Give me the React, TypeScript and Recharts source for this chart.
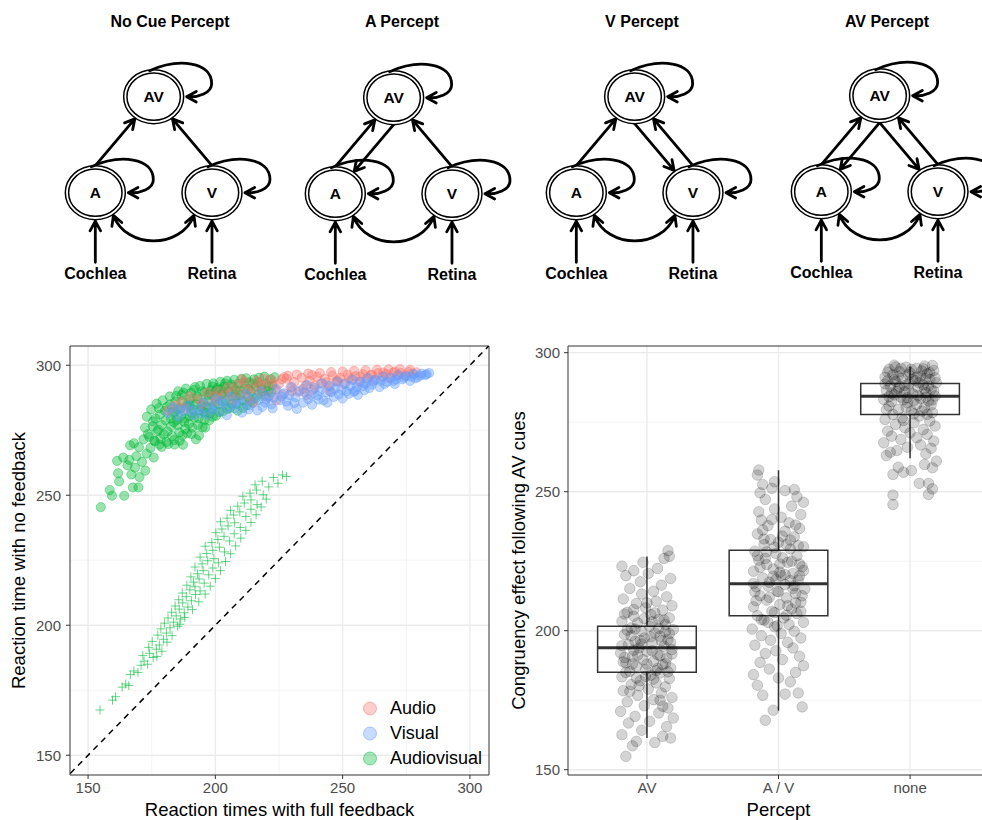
import React from 'react';
import {
  ScatterChart, Scatter, XAxis, YAxis, CartesianGrid, ReferenceLine, ReferenceArea, Legend, Label,
} from 'recharts';

const FONT = '"Liberation Sans", Arial, Helvetica, sans-serif';

// ---------------- top diagrams (data) ----------------
const diagramTitles = ['No Cue Percept', 'A Percept', 'V Percept', 'AV Percept'];
const nodeIds = ['AV', 'A', 'V'];
const nodeX = [1, 0, 2];
const nodeY = [1, 0, 0];
const inputIds = ['Cochlea', 'Retina'];
const inputX = [0, 2];
const inputY = [-0.84, -0.84];
const inputTargets = ['A', 'V'];
const diagramEdges: string[][][] = [
  [['A', 'AV'], ['V', 'AV']],
  [['A', 'AV'], ['AV', 'A'], ['V', 'AV']],
  [['A', 'AV'], ['V', 'AV'], ['AV', 'V']],
  [['A', 'AV'], ['AV', 'A'], ['V', 'AV'], ['AV', 'V']],
];
// layout of the four diagrams
const diagramLeft = [2, 242, 483, 728];
const diagramTop = [0, 1, 0, -1];
const titleCenterX = [170, 402, 642, 887];

// ---------------- left scatter (data) ----------------
const rtTicks = [150, 200, 250, 300];
const rtMinor = [175, 225, 275];
const legendOrder = ['Audio', 'Visual', 'Audiovisual'];
const audioPts = [
  [181.5,282.5],[184.0,284.5],[186.5,286.0],[190.0,288.0],[193.5,287.0],[196.8,289.5],[199.5,286.0],[201.0,290.0],[203.5,288.5],[205.0,291.5],[207.0,286.5],[208.5,292.5],[210.0,289.0],[211.5,293.5],[213.0,287.0],[214.5,291.0],[216.0,294.0],[217.5,289.5],[219.0,292.0],[220.5,287.8],[222.0,294.5],[223.5,290.5],[225.0,292.8],[226.5,288.8],[228.0,294.8],[229.5,291.5],[231.0,293.5],[232.5,289.8],[234.0,295.2],[235.5,292.2],[237.0,294.0],[238.5,290.6],[240.0,295.6],[241.5,293.0],[243.0,294.8],[244.5,291.8],[246.0,296.0],[247.5,293.8],[249.0,295.2],[250.5,292.8],[252.0,296.4],[253.5,294.4],[255.0,295.8],[256.5,293.6],[258.0,296.6],[259.5,295.0],[261.0,296.2],[262.5,294.4],[264.0,297.0],[265.5,295.6],[267.0,296.6],[268.5,295.2],[270.0,297.2],[271.5,296.2],[273.0,297.0],[274.5,296.0],[276.0,297.4],[277.5,296.8],[279.0,297.3],
  [215.0,285.6],[224.0,286.5],[236.0,288.6],[245.0,290.0],[227.0,295.4],[238.0,296.2],[219.0,294.9],[210.5,294.6],
  [228.5,296.0],[232.0,296.4],[236.5,296.8],[241.0,297.0],[245.5,297.4],[250.0,297.6],[254.5,297.9],[259.0,298.1],[263.5,298.3],[268.0,298.4],[272.5,298.5],[276.5,298.2],[230.0,290.0],[234.5,291.0],[239.0,292.2],[243.5,293.4],[248.0,294.2],[252.5,295.0],[257.0,295.6],[261.5,296.4],[266.0,297.2],[270.5,297.6],[212.5,290.5],[217.5,292.8],[222.5,293.0],[226.0,294.6],[200.0,288.0],[206.5,289.5],[195.0,285.0],[188.0,283.5],
];
const visualPts = [
  [181.5,281.5],[183.5,283.8],[185.5,280.2],[187.5,282.5],[189.5,284.6],[191.5,280.8],[193.5,283.2],[195.5,285.8],[197.0,281.0],[198.5,284.0],[200.0,287.0],[201.5,282.2],[203.0,285.2],[204.5,280.8],[206.0,288.0],[207.5,283.4],[209.0,286.4],[210.5,281.8],[212.0,289.0],[213.5,284.6],[215.0,287.4],[216.5,282.6],[218.0,290.0],[219.5,285.6],[221.0,288.2],[222.5,283.4],[224.0,290.8],[225.5,286.6],[227.0,289.2],[228.5,284.4],[230.0,291.6],[231.5,287.6],[233.0,290.2],[234.5,285.6],[236.0,292.4],[237.5,288.6],[239.0,291.2],[240.5,286.8],[242.0,293.0],[243.5,289.6],[245.0,292.0],[246.5,287.8],[248.0,293.6],[249.5,290.6],[251.0,292.8],[252.5,289.0],[254.0,294.4],[255.5,291.6],[257.0,293.6],[258.5,290.4],[260.0,295.0],[261.5,292.6],[263.0,294.4],[264.5,291.6],[266.0,295.6],[267.5,293.6],[269.0,295.2],[270.5,292.8],[272.0,296.2],[273.5,294.6],[275.0,295.8],[276.5,294.0],[278.0,296.6],[279.5,295.4],[281.0,296.8],[282.5,296.2],[284.0,297.0],
  [205.0,284.0],[211.0,285.5],[217.0,286.5],[223.0,287.5],[229.0,288.5],[235.0,289.5],[241.0,290.0],[247.0,291.0],[253.0,292.0],[259.0,293.0],[265.0,294.0],[271.0,294.5],[277.0,295.6],[232.0,283.2],[244.0,285.6],[256.0,288.6],[238.0,284.8],[250.0,287.2],
  [186.0,283.0],[190.5,282.5],[194.5,281.5],[199.0,283.0],[202.5,286.2],[208.0,285.0],[213.0,283.0],[218.5,284.0],[220.0,287.0],[226.0,288.0],[231.0,285.5],[236.5,287.0],[240.0,288.4],[245.5,289.6],[251.5,290.0],[255.0,290.2],[258.0,292.0],[262.0,293.8],[266.5,292.8],[270.0,294.0],[274.0,295.2],[278.5,295.0],[280.5,296.0],[283.0,296.6],[242.5,286.5],[248.5,288.8],[254.5,289.8],[260.5,291.2],[228.0,286.0],[222.0,285.0],
];
const audiovisualPts = [
  [155.0,245.4],[158.5,252.0],[159.4,249.8],[164.2,249.8],[161.8,258.5],[162.2,255.3],[167.6,253.0],[169.8,253.0],[161.4,263.2],[163.8,264.5],[166.2,263.6],[168.4,260.6],[170.2,257.0],[167.0,258.0],[165.5,261.5],[169.0,265.0],[171.2,262.8],[172.5,259.5],[173.0,266.0],[170.0,268.5],[168.0,270.0],[166.5,269.2],[171.8,271.5],[174.5,268.2],[175.8,264.5],[173.5,273.5],[176.0,271.0],[178.0,269.5],[177.2,274.6],[175.4,276.5],
  [172.4,276.0],[173.1,280.2],[174.0,272.5],[174.8,283.0],[175.5,278.4],[176.2,270.8],[176.9,285.2],[177.6,275.2],[178.2,281.0],[178.9,268.6],
  [179.3,286.5],[179.8,273.4],[180.4,278.8],[181.0,284.0],[181.5,269.7],[182.1,288.0],[182.6,276.5],[183.2,281.7],[183.8,271.2],[184.3,286.0],[184.9,279.0],[185.4,290.0],[185.8,274.2],
  [186.3,283.4],[186.8,288.6],[187.3,269.4],[187.8,278.2],[188.4,291.0],[188.9,273.8],[189.4,285.8],[189.9,280.4],[190.5,289.4],[191.0,276.0],[191.5,283.0],[192.0,291.6],[192.4,271.5],
  [193.0,287.0],[193.5,279.6],[194.0,292.0],[194.5,284.2],[195.0,276.2],[195.6,289.6],[196.1,281.8],[196.6,292.8],[197.1,286.4],[197.6,278.8],[198.2,290.4],[198.7,283.6],[199.2,293.0],[199.8,287.6],[200.3,280.6],
  [200.8,291.2],[201.3,285.0],[201.9,293.6],[202.4,288.8],[202.9,282.2],[203.5,291.8],[204.0,286.6],[204.6,294.0],[205.1,289.6],[205.7,283.6],[206.3,292.6],[206.8,287.8],[207.4,294.4],[207.9,290.6],
  [208.5,285.2],[209.1,292.9],[209.7,288.6],[210.3,294.8],[210.9,283.6],[211.5,291.0],[212.1,295.0],[212.7,287.8],[213.3,293.4],[214.0,290.0],[214.6,285.6],[215.2,294.6],[215.9,291.8],
  [216.5,288.6],[217.2,295.2],[217.9,292.4],[218.6,289.8],[219.3,295.6],[220.0,293.0],[220.8,290.2],[221.6,294.6],[222.4,292.2],[223.3,295.4],
  [184.0,282.0],[187.0,286.0],[190.0,284.5],[192.8,288.0],[195.3,285.5],[198.0,289.0],[200.5,290.5],[203.2,289.5],[188.0,279.5],[191.8,279.8],[185.2,277.0],[182.5,279.5],[196.0,276.0],[193.6,273.0],
  [176.5,279.5],[177.8,283.5],[179.0,277.0],[180.2,282.5],[181.2,274.5],[182.3,285.0],[183.0,272.8],[183.7,278.0],[184.6,288.2],[185.0,283.0],[186.0,271.0],[186.6,280.5],[187.5,289.5],[188.2,275.5],[188.7,284.0],[189.6,277.5],[190.2,287.0],[190.8,281.5],[191.6,290.5],[192.3,285.0],[193.2,277.0],[193.9,282.5],[194.8,290.0],[195.8,279.0],[196.5,284.0],[197.3,288.6],[198.0,281.5],[198.9,291.8],[199.6,284.5],[200.6,288.0],[201.6,282.0],[202.2,290.8],[203.0,286.0],[203.8,293.0],[204.8,283.2],[205.4,290.0],[206.5,285.2],[207.2,291.8],[208.0,288.0],[208.8,282.5],[209.4,290.2],[210.6,286.4],[211.2,293.2],[212.4,284.6],[213.0,290.8],[213.8,286.2],[214.8,292.8],[216.0,287.4],[216.8,293.4],[218.2,291.0],[219.6,288.2],[221.0,292.0],[222.0,289.6],[178.5,271.8],[180.8,270.5],[184.0,269.5],[187.0,273.0],[190.6,273.6],[195.5,282.0],[199.0,280.2],
];
const crossPts = [
  [154.7,167.4],[159.6,171.2],[160.8,172.5],[163.4,176.2],[164.8,177.4],[166.0,176.8],[166.6,181.0],[168.0,182.4],[169.6,181.8],[170.8,184.6],[172.0,186.2],[173.4,185.0],[171.5,188.4],[174.2,189.2],[175.6,187.6],[176.8,190.8],[173.8,191.5],[178.0,192.4],[175.2,193.8],[179.6,194.6],[177.4,196.2],[180.8,197.0],[178.6,198.6],[182.2,199.0],[180.0,200.8],[183.6,201.2],[185.2,199.6],[181.4,202.8],[184.6,203.6],[186.4,202.4],[182.8,205.0],[185.8,206.2],[187.8,204.8],[184.2,207.4],[187.2,208.6],[189.2,207.0],[185.6,209.8],[188.6,211.0],[190.6,209.4],[192.2,211.8],[187.0,212.4],[190.0,213.6],[192.0,214.8],[194.0,213.2],[188.8,215.4],[191.4,216.6],[193.6,217.8],[195.6,216.2],[190.4,218.6],[193.0,219.8],[195.2,221.0],[197.4,219.4],[199.0,222.0],[192.0,222.4],[194.8,223.6],[197.0,224.8],[199.4,225.6],[201.2,224.0],[194.0,226.2],[196.6,227.6],[199.0,228.8],[201.6,230.0],[203.6,228.2],[196.0,230.4],[198.6,231.8],[201.0,233.0],[203.4,234.2],[205.6,232.4],[207.4,235.2],[200.2,235.6],[202.6,237.0],[205.0,238.2],[207.6,239.4],[209.8,237.6],[202.0,239.8],[204.6,241.2],[207.2,242.4],[209.6,243.6],[212.0,241.8],[214.0,244.6],[206.0,244.2],[208.8,245.8],[211.4,247.0],[214.0,248.2],[216.4,246.4],[210.8,249.6],[213.6,250.8],[216.2,252.0],[218.8,250.2],[221.0,253.2],[215.6,254.0],[218.4,255.4],[222.8,256.8],[224.6,254.6],[226.4,257.8],[228.0,257.2],
  [186.0,200.4],[188.0,203.0],[191.0,206.0],[193.5,209.0],[196.0,212.0],[198.0,215.0],[200.0,218.0],[202.0,221.0],[204.0,224.5],[206.0,227.5],[208.0,230.5],[210.0,233.5],[212.0,236.5],[214.0,239.5],[216.0,242.5],[218.0,245.5],[220.0,248.5],[177.0,188.0],[179.0,190.0],[181.0,193.5],[183.0,196.0],
];

// ---------------- right boxplot (data) ----------------
const percepts = ['AV', 'A / V', 'none'];
const boxQ1 = [185.1, 205.4, 277.8];
const boxMedian = [193.9, 216.9, 284.3];
const boxQ3 = [201.6, 228.9, 288.9];
const boxLow = [161.4, 171.3, 262.0];
const boxHigh = [226.7, 257.7, 295.0];
const congTicks = [150, 200, 250, 300];
const congMinor = [175, 225, 275];
const jitterAV = [
  [-0.16,154.8],[-0.11,158.6],[-0.08,160.2],[0.06,159.8],[0.18,161.4],[-0.19,162.6],[0.12,162.0],[-0.04,164.2],[0.15,165.5],[-0.14,166.8],[0.02,167.4],[0.20,168.6],[-0.09,169.2],[0.09,170.4],[-0.20,171.0],[0.16,172.2],[-0.02,173.0],[-0.15,174.4],[0.05,175.2],[0.19,176.0],[-0.07,176.8],[0.11,177.6],[-0.18,178.4],[0.01,179.0],[0.14,179.8],[-0.12,180.6],[0.07,181.2],[-0.05,182.0],[0.17,182.8],[-0.19,183.4],[0.03,184.0],[0.10,184.8],[-0.13,185.4],[-0.01,186.0],[0.18,186.6],[-0.08,187.2],[0.12,187.8],[-0.16,188.4],[0.05,189.0],[-0.03,189.6],[0.15,190.2],[-0.11,190.8],[0.08,191.4],[-0.20,192.0],[0.00,192.6],[0.19,193.2],[-0.06,193.8],[0.13,194.4],[-0.14,195.0],[0.04,195.6],[-0.09,196.2],[0.16,196.8],[-0.02,197.4],[0.10,198.0],[-0.17,198.6],[0.06,199.2],[-0.04,199.8],[0.20,200.4],[-0.12,201.0],[0.02,201.6],[0.14,202.2],[-0.07,202.8],[-0.19,203.4],[0.09,204.0],[0.17,204.6],[-0.10,205.2],[0.03,205.8],[-0.15,206.6],[0.12,207.4],[-0.01,208.2],[0.19,209.0],[-0.08,209.8],[0.07,210.6],[-0.18,211.4],[0.15,212.2],[-0.04,213.2],[0.05,214.2],[-0.13,215.2],[0.11,216.4],[-0.05,217.6],[0.18,218.8],[-0.16,219.8],[0.01,220.6],[-0.10,221.6],[0.08,222.4],[-0.19,223.2],[-0.03,224.6],[0.13,226.0],[0.16,228.8],[0.17,226.8],
  [-0.10,193.0],[0.10,191.0],[0.00,188.0],[-0.05,196.5],[0.07,185.6],[-0.12,198.2],[0.14,199.6],[-0.17,190.4],[0.04,203.2],[-0.08,183.0],
  [-0.18,188.8],[0.16,185.2],[-0.06,180.2],[0.11,196.4],[-0.15,200.2],[0.03,197.8],[0.19,191.6],[-0.02,204.4],[0.08,186.4],[-0.10,207.6],[0.13,203.8],[-0.19,194.6],[0.05,182.6],[-0.07,191.2],[0.17,199.0],[-0.13,178.2],[0.00,210.0],[0.10,175.0],[-0.04,195.2],[0.14,188.2],[-0.16,185.0],[0.06,206.4],[-0.09,200.6],[0.18,195.8],[-0.01,183.6],[0.12,172.8],[-0.17,206.0],[0.04,192.8],[-0.11,188.0],[0.09,200.8],
];
const jitterAVsplit = [
  [-0.10,167.8],[0.18,172.6],[-0.04,171.4],[0.15,177.6],[-0.12,176.8],[0.05,177.2],[-0.16,180.4],[0.09,181.6],[0.00,183.0],[-0.19,184.2],[0.13,185.0],[-0.07,186.2],[0.19,187.4],[-0.14,188.6],[0.03,189.6],[0.16,190.8],[-0.10,191.8],[-0.02,192.8],[0.11,193.8],[-0.18,194.8],[0.07,195.8],[-0.06,196.6],[0.17,197.4],[-0.13,198.2],[0.02,199.0],[0.12,199.8],[-0.20,200.6],[-0.03,201.4],[0.08,202.2],[0.19,203.0],[-0.11,203.8],[0.04,204.6],[-0.16,205.4],[0.14,206.2],[-0.05,207.0],[0.10,207.8],[-0.19,208.6],[0.01,209.4],[0.17,210.2],[-0.09,211.0],[0.06,211.8],[-0.14,212.6],[0.13,213.4],[-0.01,214.2],[0.20,215.0],[-0.17,215.8],[0.05,216.6],[-0.07,217.4],[0.15,218.2],[-0.12,219.0],[0.02,219.8],[0.11,220.6],[-0.19,221.4],[-0.04,222.2],[0.18,223.0],[-0.09,223.8],[0.07,224.6],[-0.15,225.4],[0.03,226.2],[0.14,227.0],[-0.02,227.8],[-0.18,228.6],[0.09,229.4],[0.19,230.2],[-0.11,231.0],[0.00,231.8],[-0.06,232.8],[0.12,233.8],[-0.16,234.8],[0.05,235.8],[0.16,236.8],[-0.08,237.8],[0.08,238.8],[-0.13,239.8],[0.02,240.8],[0.17,241.8],[-0.15,242.8],[-0.03,243.8],[0.10,244.8],[0.19,246.2],[-0.10,247.2],[0.14,248.2],[-0.14,249.6],[0.05,250.4],[-0.05,251.2],[0.12,250.8],[-0.12,252.6],[-0.03,253.6],[-0.16,256.0],[-0.15,257.8],
  [0.00,214.0],[-0.08,216.0],[0.09,218.0],[0.01,221.0],[-0.10,226.0],[0.13,210.0],[-0.13,204.0],[0.06,231.0],[-0.03,206.5],[0.16,224.0],
  [-0.17,210.8],[0.12,216.2],[-0.04,219.6],[0.18,212.6],[-0.09,228.4],[0.06,205.6],[-0.14,222.8],[0.15,230.6],[-0.01,201.8],[0.10,225.0],[-0.19,217.0],[0.03,234.0],[-0.07,212.0],[0.16,219.8],[-0.12,236.2],[0.07,209.0],[-0.03,230.0],[0.19,221.6],[-0.16,227.0],[0.01,224.0],[0.13,238.0],[-0.08,203.0],[0.09,232.6],[-0.18,214.0],[0.05,220.2],[-0.05,240.0],[0.17,207.0],[-0.11,233.0],[0.11,215.2],[-0.02,218.4],
];
const jitterNone = [
  [-0.13,245.4],[-0.13,248.8],[0.14,249.0],[0.17,251.0],[0.07,253.0],[0.14,253.0],[-0.13,256.2],[-0.05,257.0],[-0.09,258.8],[0.01,257.6],[0.11,259.8],[0.17,258.6],[0.20,261.0],[-0.18,263.0],[-0.15,264.2],[0.12,263.6],[-0.10,264.8],[0.16,265.6],[-0.02,266.0],[0.08,266.8],[-0.20,267.6],[0.18,268.2],[-0.07,268.8],[0.05,269.4],[-0.14,270.0],[0.13,270.6],[0.00,271.2],[-0.17,271.8],[0.10,272.4],[-0.04,273.0],[0.19,273.6],[-0.11,274.2],[0.03,274.8],[0.15,275.4],[-0.19,276.0],[-0.06,276.6],[0.07,277.2],[-0.13,277.8],[0.17,278.4],[0.01,279.0],[-0.09,279.6],[0.11,280.2],[-0.16,280.8],[0.05,281.4],[-0.02,282.0],[0.14,282.6],[-0.20,283.2],[0.08,283.6],[-0.07,284.0],[0.19,284.4],[-0.12,284.8],[0.02,285.2],[0.12,285.6],[-0.04,286.0],[-0.18,286.4],[0.16,286.8],[-0.09,287.2],[0.06,287.6],[-0.15,288.0],[0.10,288.4],[-0.01,288.8],[0.20,289.2],[-0.11,289.6],[0.04,290.0],[0.15,290.4],[-0.06,290.8],[-0.19,291.2],[0.08,291.6],[-0.13,292.0],[0.13,292.4],[0.00,292.8],[-0.08,293.2],[0.18,293.6],[-0.16,294.0],[0.05,294.4],[-0.03,294.8],[0.11,295.2],[-0.12,295.5],[0.17,295.4],
  [0.02,290.5],[-0.05,283.0],[0.09,279.0],[-0.10,286.0],[0.14,288.0],[-0.14,285.5],[0.03,278.0],[-0.01,292.0],[0.12,284.0],[-0.17,290.0],
  [-0.17,293.0],[0.12,290.8],[-0.04,288.2],[0.18,286.2],[-0.09,291.6],[0.06,284.6],[-0.14,282.4],[0.15,292.8],[-0.01,286.6],[0.10,294.2],[-0.19,288.8],[0.03,282.8],[-0.07,294.4],[0.16,281.2],[-0.12,290.2],[0.07,289.2],[-0.03,280.4],[0.19,291.0],[-0.16,284.2],[0.01,294.0],[0.13,277.8],[-0.08,287.8],[0.09,293.4],[-0.18,279.6],[0.05,291.2],[-0.05,275.6],[0.17,283.0],[-0.11,294.8],[0.11,287.0],[-0.02,283.8],
];
const jitterGroups = [jitterAV, jitterAVsplit, jitterNone];

// ---------------- helpers ----------------
const RX = 30;
const RY = 27;
const EDGE_W = 2.8;
const toXY = (arr: number[][]) => arr.map(([x, y]) => ({ x, y }));

function ellipseHit(cx: number, cy: number, dx: number, dy: number): [number, number] {
  const t = 1 / Math.sqrt((dx / (RX + 1)) ** 2 + (dy / (RY + 1)) ** 2);
  return [cx + dx * t, cy + dy * t];
}
function arrowHead(tx: number, ty: number, ux: number, uy: number) {
  const L = 11;
  const a = 0.5;
  const bx = -ux;
  const by = -uy;
  const c = Math.cos(a);
  const s = Math.sin(a);
  const p1x = tx + L * (bx * c - by * s);
  const p1y = ty + L * (bx * s + by * c);
  const p2x = tx + L * (bx * c + by * s);
  const p2y = ty + L * (-bx * s + by * c);
  return ` M${p1x},${p1y} L${tx},${ty} L${p2x},${p2y}`;
}

function EdgeLine(props: any) {
  const { points, kind } = props;
  if (!points || points.length < 2) return null;
  const p = points[0];
  const q = points[1];
  let d = '';
  if (kind === 'edge') {
    const tx = p.x;
    const ty = q.y < p.y ? p.y - RY : p.y + RY;
    const [hx, hy] = ellipseHit(q.x, q.y, tx - q.x, ty - q.y);
    const len = Math.hypot(hx - tx, hy - ty);
    d = `M${tx},${ty} L${hx},${hy}` + arrowHead(hx, hy, (hx - tx) / len, (hy - ty) / len);
  } else if (kind === 'input') {
    const ty = p.y - 11;
    const hy = q.y + RY + 1.5;
    d = `M${p.x},${ty} L${q.x},${hy}` + arrowHead(q.x, hy, 0, -1);
  } else if (kind === 'arc') {
    const [ax, ay] = ellipseHit(p.x, p.y, 0.62, 0.78);
    const [vx, vy] = ellipseHit(q.x, q.y, -0.62, 0.78);
    const c1x = ax + 13, c1y = ay + 34, c2x = vx - 13, c2y = vy + 34;
    const l1 = Math.hypot(13, 34);
    d = `M${ax},${ay} C${c1x},${c1y} ${c2x},${c2y} ${vx},${vy}`
      + arrowHead(ax, ay, -13 / l1, -34 / l1)
      + arrowHead(vx, vy, 13 / l1, -34 / l1);
  }
  return <path d={d} fill="none" stroke="#000" strokeWidth={EDGE_W} strokeLinecap="round" strokeLinejoin="round" />;
}

const Empty = () => <g />;

function NodeShape(props: any) {
  const { cx, cy, payload } = props;
  const loop = `M${cx - 4},${cy - RY + 1} C${cx + 25},${cy - RY - 12} ${cx + 58},${cy - RY - 8} ${cx + 58},${cy - 13}`
    + ` C${cx + 58},${cy - 4} ${cx + 45},${cy + 1} ${cx + RX + 3},${cy}`;
  return (
    <g>
      <ellipse cx={cx} cy={cy} rx={RX} ry={RY} fill="#fff" stroke="#000" strokeWidth={1.5} />
      <ellipse cx={cx} cy={cy} rx={RX - 3.3} ry={RY - 3.3} fill="none" stroke="#000" strokeWidth={1.5} />
      <path d={loop + arrowHead(cx + RX + 3, cy, -1, 0)} fill="none" stroke="#000" strokeWidth={EDGE_W} strokeLinecap="round" strokeLinejoin="round" />
      <text x={cx} y={cy} dy="0.36em" textAnchor="middle" fontWeight="bold" fontSize={15.5} fontFamily={FONT} fill="#000">{payload.id}</text>
    </g>
  );
}

function InputLabel(props: any) {
  const { cx, cy, payload } = props;
  return <text x={cx} y={cy} dy="0.36em" textAnchor="middle" fontWeight="bold" fontSize={16} fontFamily={FONT} fill="#000">{payload.id}</text>;
}

function Diagram({ idx }: { idx: number }) {
  const pos = (id: string) => { const i = nodeIds.indexOf(id); return { x: nodeX[i], y: nodeY[i] }; };
  const nodes = nodeIds.map((id, i) => ({ id, x: nodeX[i], y: nodeY[i] }));
  const inputs = inputIds.map((id, i) => ({ id, x: inputX[i], y: inputY[i] }));
  return (
    <div style={{ position: 'absolute', left: diagramLeft[idx], top: diagramTop[idx] }}>
      <ScatterChart width={270} height={300} margin={{ top: 0, right: 0, bottom: 0, left: 0 }}>
        <XAxis type="number" dataKey="x" domain={[-1.6, 3.029]} hide allowDataOverflow />
        <YAxis type="number" dataKey="y" domain={[-1.118, 2.007]} hide allowDataOverflow />
        {diagramEdges[idx].map(([f, t], k) => (
          <Scatter key={'e' + k} data={[pos(f), pos(t)]} line={<EdgeLine kind="edge" />} shape={Empty} isAnimationActive={false} legendType="none" />
        ))}
        <Scatter data={[pos('A'), pos('V')]} line={<EdgeLine kind="arc" />} shape={Empty} isAnimationActive={false} legendType="none" />
        {inputs.map((inp, k) => (
          <Scatter key={'i' + k} data={[{ x: inp.x, y: inp.y }, pos(inputTargets[k])]} line={<EdgeLine kind="input" />} shape={Empty} isAnimationActive={false} legendType="none" />
        ))}
        <Scatter data={nodes} shape={NodeShape} isAnimationActive={false} legendType="none" />
        <Scatter data={inputs} shape={InputLabel} isAnimationActive={false} legendType="none" />
      </ScatterChart>
    </div>
  );
}

const circleShape = (color: string, r: number, fo: number, so: number) => (p: any) => (
  <circle cx={p.cx} cy={p.cy} r={r} fill={color} fillOpacity={fo} stroke={color} strokeOpacity={so} strokeWidth={0.8} />
);
const crossShape = (color: string) => (p: any) => (
  <path d={`M${p.cx - 4.5},${p.cy} L${p.cx + 4.5},${p.cy} M${p.cx},${p.cy - 4.5} L${p.cx},${p.cy + 4.5}`} stroke={color} strokeOpacity={0.6} strokeWidth={1} fill="none" />
);

function LegendContent(props: any) {
  const items = (props.payload || [])
    .filter((it: any) => it.type !== 'none' && legendOrder.includes(it.value))
    .sort((a: any, b: any) => legendOrder.indexOf(a.value) - legendOrder.indexOf(b.value));
  return (
    <div style={{ fontFamily: FONT }}>
      {items.map((it: any) => (
        <div key={it.value} style={{ display: 'flex', alignItems: 'center', height: 25 }}>
          <svg width={26} height={25}>
            <circle cx={13} cy={12.5} r={6.5} fill={it.color} fillOpacity={0.35} stroke={it.color} strokeOpacity={0.5} />
          </svg>
          <span style={{ marginLeft: 7, fontSize: 18, color: '#000', lineHeight: '25px' }}>{it.value}</span>
        </div>
      ))}
    </div>
  );
}

const AUDIO = '#F8766D';
const VISUAL = '#619CFF';
const AVCOL = '#00BA38';
const tickStyle = { fontSize: 15, fill: '#4d4d4d', fontFamily: FONT };

function LeftPanel() {
  return (
    <div style={{ position: 'absolute', left: 0, top: 330 }}>
      <ScatterChart width={500} height={490} margin={{ top: 16, right: 11, bottom: 0, left: 8 }}>
        <CartesianGrid horizontalValues={rtMinor} verticalValues={rtMinor} stroke="#F0F0F0" strokeWidth={0.8} />
        <CartesianGrid horizontalValues={rtTicks} verticalValues={rtTicks} stroke="#EBEBEB" strokeWidth={1.4} />
        <XAxis type="number" dataKey="x" domain={[142.9, 307.5]} ticks={rtTicks} allowDataOverflow height={45}
          axisLine={false} tickLine={{ stroke: '#333' }} tickSize={4} tickMargin={3} tick={tickStyle}>
          <Label value="Reaction times with full feedback" position="insideBottom" offset={4} style={{ fontSize: 18.5, fill: '#000', fontFamily: FONT }} />
        </XAxis>
        <YAxis type="number" dataKey="y" domain={[142.4, 307.4]} ticks={rtTicks} allowDataOverflow width={62}
          axisLine={false} tickLine={{ stroke: '#333' }} tickSize={4} tickMargin={5} tick={tickStyle}>
          <Label value="Reaction time with no feedback" angle={-90} position="insideLeft" offset={10} style={{ fontSize: 18.5, fill: '#000', fontFamily: FONT, textAnchor: 'middle' }} />
        </YAxis>
        <ReferenceLine segment={[{ x: 140, y: 140 }, { x: 310, y: 310 }]} ifOverflow="hidden" stroke="#000" strokeWidth={1.5} strokeDasharray="6 5" />
        <Scatter name="Audiovisual" data={toXY(audiovisualPts)} fill={AVCOL} shape={circleShape(AVCOL, 4.6, 0.4, 0.5)} isAnimationActive={false} />
        <Scatter name="Audio" data={toXY(audioPts)} fill={AUDIO} shape={circleShape(AUDIO, 4.6, 0.4, 0.5)} isAnimationActive={false} />
        <Scatter name="Visual" data={toXY(visualPts)} fill={VISUAL} shape={circleShape(VISUAL, 4.6, 0.4, 0.5)} isAnimationActive={false} />
        <Scatter name="Audiovisual crosses" data={toXY(crossPts)} fill={AVCOL} shape={crossShape(AVCOL)} isAnimationActive={false} legendType="none" />
        <ReferenceArea x1={142.9} x2={307.5} y1={142.4} y2={307.4} fill="none" stroke="#333" strokeWidth={1} ifOverflow="visible" />
        <Legend layout="vertical" align="center" verticalAlign="middle" content={LegendContent}
          wrapperStyle={{ left: 357, top: 366, width: 140 }} />
      </ScatterChart>
    </div>
  );
}

function RightPanel() {
  const pts = jitterGroups.flatMap((g, i) => g.map(([dx, y]) => ({ x: i + dx, y })));
  return (
    <div style={{ position: 'absolute', left: 490, top: 330 }}>
      <ScatterChart width={500} height={490} margin={{ top: 16, right: 1, bottom: 0, left: 18 }}>
        <CartesianGrid horizontalValues={congMinor} vertical={false} stroke="#F0F0F0" strokeWidth={0.8} />
        <CartesianGrid horizontalValues={congTicks} verticalValues={[0, 1, 2]} stroke="#EBEBEB" strokeWidth={1.4} />
        <XAxis type="number" dataKey="x" domain={[-0.6, 2.6]} ticks={[0, 1, 2]} allowDataOverflow height={45}
          tickFormatter={(v: number) => percepts[v]} axisLine={false} tickLine={{ stroke: '#333' }} tickSize={4} tickMargin={3} tick={tickStyle}>
          <Label value="Percept" position="insideBottom" offset={4} style={{ fontSize: 18.5, fill: '#000', fontFamily: FONT }} />
        </XAxis>
        <YAxis type="number" dataKey="y" domain={[148.1, 302.4]} ticks={congTicks} allowDataOverflow width={60}
          axisLine={false} tickLine={{ stroke: '#333' }} tickSize={4} tickMargin={4} tick={tickStyle}>
          <Label value="Congruency effect following AV cues" angle={-90} position="insideLeft" offset={10} style={{ fontSize: 18.5, fill: '#000', fontFamily: FONT, textAnchor: 'middle' }} />
        </YAxis>
        <Scatter name="points" data={pts} fill="#000" shape={circleShape('#000', 5.3, 0.17, 0.2)} isAnimationActive={false} legendType="none" />
        {percepts.map((p, i) => (
          <ReferenceLine key={'wl' + i} segment={[{ x: i, y: boxLow[i] }, { x: i, y: boxQ1[i] }]} stroke="#333" strokeWidth={1.5} />
        ))}
        {percepts.map((p, i) => (
          <ReferenceLine key={'wh' + i} segment={[{ x: i, y: boxQ3[i] }, { x: i, y: boxHigh[i] }]} stroke="#333" strokeWidth={1.5} />
        ))}
        {percepts.map((p, i) => (
          <ReferenceArea key={'b' + i} x1={i - 0.375} x2={i + 0.375} y1={boxQ1[i]} y2={boxQ3[i]} fill="none" fillOpacity={0} stroke="#333" strokeWidth={1.5} />
        ))}
        {percepts.map((p, i) => (
          <ReferenceLine key={'m' + i} segment={[{ x: i - 0.375, y: boxMedian[i] }, { x: i + 0.375, y: boxMedian[i] }]} stroke="#333" strokeWidth={3} />
        ))}
        <ReferenceArea x1={-0.6} x2={2.6} y1={148.1} y2={302.4} fill="none" stroke="#333" strokeWidth={1} ifOverflow="visible" />
      </ScatterChart>
    </div>
  );
}

export default function App() {
  return (
    <div style={{ position: 'absolute', left: 0, top: 0, width: 982, height: 820, overflow: 'hidden', background: '#fff', fontFamily: FONT }}>
      {diagramTitles.map((t, i) => (
        <div key={t} style={{ position: 'absolute', left: titleCenterX[i] - 100, width: 200, top: 12, textAlign: 'center', fontWeight: 'bold', fontSize: 16, lineHeight: '20px', color: '#000' }}>{t}</div>
      ))}
      {diagramTitles.map((t, i) => <Diagram key={'d' + i} idx={i} />)}
      <LeftPanel />
      <RightPanel />
    </div>
  );
}
